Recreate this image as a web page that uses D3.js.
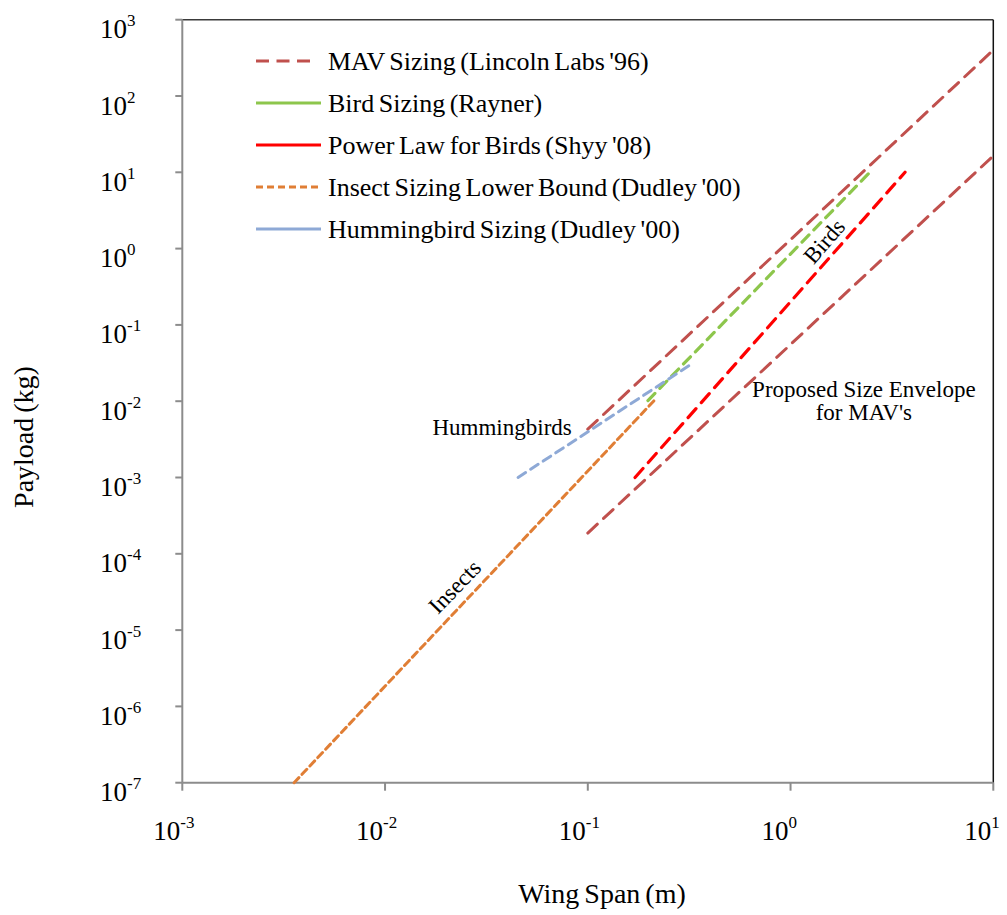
<!DOCTYPE html>
<html><head><meta charset="utf-8">
<script src="https://cdn.jsdelivr.net/npm/d3@7"></script>
<style>body{margin:0;background:#fff}svg{display:block}text{font-family:"Liberation Serif","Times New Roman",serif;fill:#000}</style>
</head><body><svg id="c" width="1007" height="915"></svg>
<script>
// ---- data (wing span in m, payload in kg) ----
const seriesNames = ["MAV Sizing (Lincoln Labs '96)", "Bird Sizing (Rayner)", "Power Law for Birds (Shyy '08)", "Insect Sizing Lower Bound (Dudley '00)", "Hummingbird Sizing (Dudley '00)"];
const mavUpper = [[0.1, 0.0043], [10, 400]];
const mavLower = [[0.1, 0.000187], [10, 16.4]];
const birdRayner = [[0.198, 0.0102], [2.47, 10.1]];
const birdShyy = [[0.171, 0.001], [3.67, 10]];
const insectLower = [[0.00356, 1e-7], [0.214, 0.0104]];
const hummingbird = [[0.0453, 0.001], [0.33, 0.0316]];
const xTickExps = [-3, -2, -1, 0, 1];
const yTickExps = [3, 2, 1, 0, -1, -2, -3, -4, -5, -6, -7];
const annotations = [
  {text: "Hummingbirds", x: 0.0378, y: 0.0036},
  {text: "Birds", x: 1.566, y: 1.07, rot: -49},
  {text: "Insects", x: 0.0235, y: 3.16e-5, rot: -46},
  {text: "Proposed Size Envelope", x: 2.30, y: 0.01146},
  {text: "for MAV's", x: 2.30, y: 0.00567}
];

const svg = d3.select("#c");
const L = 182.3, R = 993.3, T = 19.7, B = 782.7;
const x = d3.scaleLog().domain([1e-3, 10]).range([L, R]);
const y = d3.scaleLog().domain([1e-7, 1e3]).range([B, T]);

// frame
svg.append("line").attr("x1", L).attr("x2", R).attr("y1", T).attr("y2", T).attr("stroke", "#3a3a3a").attr("stroke-width", 1.5);
svg.append("line").attr("x1", R).attr("x2", R).attr("y1", T).attr("y2", B).attr("stroke", "#111").attr("stroke-width", 1.5);

// axes
const axisCol = "#8c8c8c";
svg.append("line").attr("x1", L).attr("x2", L).attr("y1", T).attr("y2", B).attr("stroke", axisCol).attr("stroke-width", 2);
svg.append("line").attr("x1", L).attr("x2", R).attr("y1", B).attr("y2", B).attr("stroke", axisCol).attr("stroke-width", 2);

const sup = (g, e, ax, ay) => {
  const t = g.append("text").attr("x", ax).attr("y", ay).style("font-size", "27px");
  t.append("tspan").text("10");
  t.append("tspan").attr("dy", -12).style("font-size", "17px").text(String(e));
};
xTickExps.forEach(e => {
  const px = x(Math.pow(10, e));
  svg.append("line").attr("x1", px).attr("x2", px).attr("y1", B).attr("y2", B + 8).attr("stroke", axisCol).attr("stroke-width", 2);
  sup(svg, e, px - 29, B + 57);
});
yTickExps.forEach(e => {
  const py = y(Math.pow(10, e));
  svg.append("line").attr("x1", L - 7).attr("x2", L).attr("y1", py).attr("y2", py).attr("stroke", axisCol).attr("stroke-width", 2);
  sup(svg, e, 100, py + 18.5);
});

// axis titles
svg.append("text").attr("x", 602).attr("y", 903).attr("text-anchor", "middle").style("font-size", "28px").style("word-spacing", "-2px").text("Wing Span (m)");
svg.append("text").attr("transform", "translate(33,437) rotate(-90)").attr("text-anchor", "middle").style("font-size", "28px").style("word-spacing", "-2px").text("Payload (kg)");

// series lines
const line = d3.line().x(d => x(d[0])).y(d => y(d[1]));
const styles = [
  {data: mavUpper, col: "#C0504D", dash: "13,8.5", w: 3},
  {data: mavLower, col: "#C0504D", dash: "13,8.5", w: 3},
  {data: birdRayner, col: "#8DC64C", dash: "10,7", w: 3.2},
  {data: birdShyy, col: "#FF0000", dash: "12,8", w: 3.2},
  {data: insectLower, col: "#E07E35", dash: "7,4.5", w: 3},
  {data: hummingbird, col: "#8EA9D6", dash: "9,6", w: 3}
];
styles.forEach(s => {
  svg.append("path").attr("d", line(s.data)).attr("fill", "none").attr("stroke", s.col)
    .attr("stroke-width", s.w).attr("stroke-dasharray", s.dash).attr("stroke-linecap", "round");
});

// legend
const legend = [
  {col: "#C0504D", dash: "13,7.5", x2: 310},
  {col: "#8DC64C", dash: null, x2: 321},
  {col: "#FF0000", dash: null, x2: 321},
  {col: "#E07E35", dash: "7,4", x2: 321},
  {col: "#8EA9D6", dash: null, x2: 321}
];
const rowsY = [70, 112, 154, 196, 238];
legend.forEach((l, i) => {
  const ln = svg.append("line").attr("x1", 256).attr("x2", l.x2).attr("y1", rowsY[i] - 9).attr("y2", rowsY[i] - 9)
    .attr("stroke", l.col).attr("stroke-width", 3);
  if (l.dash) ln.attr("stroke-dasharray", l.dash);
  svg.append("text").attr("x", 328).attr("y", rowsY[i]).style("font-size", "26px").style("word-spacing", "-2px").text(seriesNames[i]);
});

// annotations
annotations.forEach(a => {
  const px = x(a.x), py = y(a.y);
  const t = svg.append("text").attr("text-anchor", "middle").style("font-size", "23px").text(a.text);
  if (a.rot) t.attr("transform", `translate(${px},${py}) rotate(${a.rot})`);
  else t.attr("x", px).attr("y", py);
});
</script></body></html>
